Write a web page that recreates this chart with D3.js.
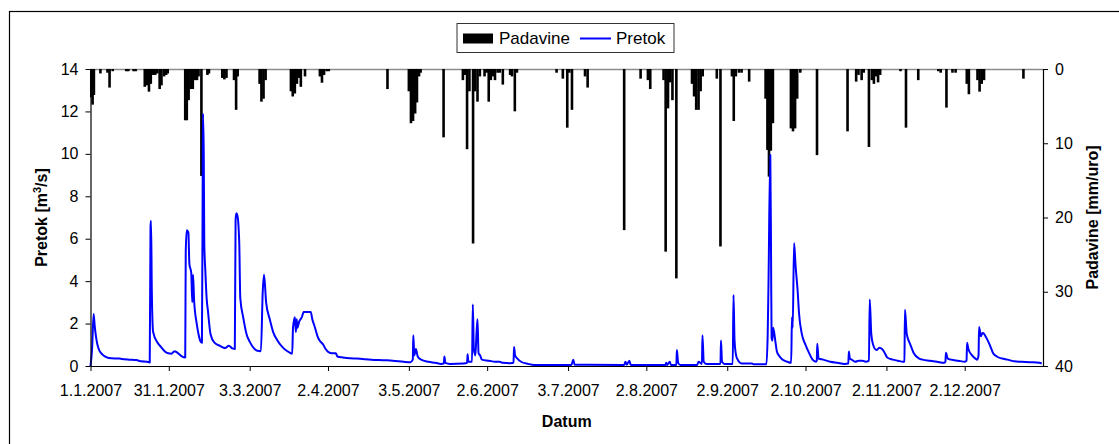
<!DOCTYPE html>
<html>
<head>
<meta charset="utf-8">
<script src="https://cdn.jsdelivr.net/npm/d3@7"></script>
<style>
  html, body { margin: 0; padding: 0; background: #fff; }
  svg { display: block; font-family: "Liberation Sans", Arial, sans-serif; }
</style>
</head>
<body>
<svg id="chart" width="1119" height="444"></svg>
<script>
// ---- DATA (day offset from 1.1.2007, value) ----
const flowDay = [0,0.6,1.2,1.6,2.2,3,4.5,6,8,11,12,15,17.5,19.5,21.6,22.7,23.0,23.2,23.5,24,25.7,27,28.4,29.8,31,32.2,33,34,35,36.3,36.5,36.9,37.5,37.9,38.6,39.0,39.3,39.7,40.7,41.4,42,42.7,43.0,43.1,43.4,43.6,44.0,44.5,45,46,47.5,49.6,51.6,53,54.4,55.3,55.6,55.9,56.3,57,57.4,58.5,59.8,61.2,62.5,63.9,65.3,66,66.5,67.3,68.7,70,71.4,73.5,74.8,76.2,77.3,77.6,78.3,78.7,79,79.3,80,81,81.7,82.4,84.4,85,85.8,86.5,87,87.8,89.2,90.1,91.2,92.6,94,94.6,96.7,99.4,102,107.6,113,115.8,120,122.6,123.5,123.7,124.1,124.7,125.4,126.7,129.5,132.2,134.3,135.4,135.6,136,137.7,143,144.3,144.5,144.8,146.2,146.5,146.9,147.5,147.9,148.3,148.7,149.3,150,152.7,155,156.8,158,160.9,162.1,162.3,162.7,163.6,165,167.7,170,184.3,185,185.5,204.5,205,205.5,206.5,207,220.4,220.6,221,222,222.4,224.5,224.7,225.2,226,232.5,233,234.3,234.5,235,236,241.4,241.6,242,243,246.1,246.4,246.8,247.4,248,249.5,253.5,254,259,259.5,259.8,260.5,260.8,261.0,261.3,261.6,262.4,263,263.8,265,267,268.5,268.8,269.1,269.6,270.2,271,271.5,272.6,274,275.3,276.7,278,278.3,278.5,279,280.8,283.5,286.2,289,290.4,290.6,291,291.7,293,294.4,295.8,297,298.3,298.6,299.2,299.9,301.2,302.3,303.3,304.2,305.3,307.4,309.4,311.4,311.9,312.1,312.8,314.2,315.5,317.6,318.9,321.7,324.4,327.1,327.6,327.8,328.5,329.8,332.5,335.1,335.7,335.9,336.4,337.8,339.1,339.8,340.3,340.5,341.2,341.8,342.5,343.2,344.6,345.9,347.3,349.3,351.4,354.1,356.8,360,363.6,364.5];
const flowValue = [0,0.8,2.45,1.9,1.3,0.85,0.55,0.42,0.36,0.35,0.33,0.3,0.28,0.22,0.2,0.17,6.6,6.85,3.5,1.6,1.1,0.9,0.7,0.6,0.58,0.7,0.65,0.55,0.45,0.4,5.4,6.4,6.3,4.8,4.4,3.0,4.3,3.1,2.0,1.5,1.2,1.1,9.0,11.9,10,5.8,4.5,3.2,2.6,1.5,1.1,0.95,0.85,0.95,0.83,0.8,6.9,7.2,7.1,5.8,3.2,2.3,1.5,1.1,0.85,0.72,0.7,3.5,4.3,3.0,2.2,1.6,1.25,0.9,0.75,0.64,0.58,1.8,2.3,1.6,2.2,1.8,2.1,2.3,2.55,2.55,2.55,2.2,1.9,1.6,1.4,1.2,1.0,0.8,0.65,0.6,0.6,0.45,0.4,0.36,0.35,0.3,0.27,0.25,0.2,0.18,0.3,1.45,0.5,0.8,0.45,0.3,0.2,0.15,0.1,0.12,0.45,0.15,0.1,0.12,0.15,0.55,0.2,0.2,2.9,0.8,0.5,1.5,2.2,0.6,0.5,0.3,0.25,0.2,0.2,0.15,0.13,0.15,0.9,0.5,0.35,0.2,0.1,0.05,0.05,0.3,0.06,0.05,0.2,0.06,0.25,0.05,0.05,0.15,0.05,0.2,0.05,0.05,0.75,0.15,0.05,0.05,0.2,0.1,1.45,0.2,0.1,0.1,1.2,0.2,0.1,0.1,3.35,1.2,0.5,0.3,0.12,0.12,0.08,0.08,1.5,3.8,9.95,5,1.3,1.2,1.8,1.2,0.7,0.5,0.32,0.2,0.15,2.3,1.8,5.8,4.7,3.5,2.5,1.5,1.0,0.63,0.3,0.2,0.25,1.05,0.35,0.3,0.2,0.15,0.1,0.12,0.68,0.35,0.3,0.2,0.25,0.25,0.2,0.25,3.14,1.5,1.0,0.75,0.86,0.8,0.65,0.4,0.3,0.25,0.2,0.22,2.65,1.5,1.0,0.6,0.35,0.3,0.25,0.2,0.15,0.2,0.62,0.35,0.3,0.25,0.2,0.25,1.1,0.8,0.5,0.35,0.3,0.5,1.84,1.4,1.55,1.5,1.35,1.0,0.6,0.45,0.35,0.3,0.22,0.2,0.18,0.15,0.12];

const rainDay = [0.3,0.8,1.3,3.8,6.5,7.3,8.5,13.7,14.5,16.5,17.3,20.8,21.6,22.4,23.1,24,24.8,25.6,26.5,27.2,28.2,29,29.6,36.3,36.9,37.6,38.4,39.2,40,40.8,41.4,42.5,44.8,45.4,50.5,51.3,52.1,55,55.8,56.4,64.8,65.5,66.3,67.1,76.8,77.5,78.3,79.1,79.9,80.6,82.2,87.9,88.7,89.5,90.5,91.3,113.8,122,122.8,123.6,124.4,125.1,125.9,126.5,135.3,142.7,143.5,144.3,145.2,146.6,147.4,148.3,149.2,151,151.8,152.6,153.4,154.2,155,156,156.8,158,160.8,161.5,162.6,163.4,178.6,181,182.7,183.5,184.5,189.5,190.5,204.5,210.8,213.6,214.5,219.6,220.4,221.3,222.1,223,224.5,230.5,231.3,232.1,233,233.8,234.6,240,241.4,245.8,246.5,247.3,248.5,249.5,252.4,258.7,259.4,260,260.7,261.5,268.4,269.2,270,270.8,272,278.4,290.1,293.4,294.3,295.5,296.3,298.3,299.4,300.2,301,301.8,302.6,310.4,312.5,317.2,324.9,325.8,328,330.3,331.5,335.8,336.6,339.9,340.7,341.5,342.4,357.5];
const rainValue = [3.8,4.8,3.5,0.6,0.5,2.5,0.3,0.3,0.3,0.3,0.3,2.4,2.2,3.05,2.0,0.8,0.8,0.6,2.7,2.2,1.0,0.8,0.6,6.9,6.9,4.2,2.7,2.7,1.5,1.5,1.0,14.4,0.8,0.6,1.2,1.4,1.2,1.5,5.5,1.0,2.0,4.4,4.0,1.5,3.0,3.7,3.3,2.0,1.2,2.4,1.0,1.0,1.85,0.8,0.3,0.3,2.7,3.0,7.3,7.0,6.0,4.5,1.0,0.5,9.2,1.5,0.8,10.8,3.0,23.5,3.0,4.4,1.0,1.0,0.5,4.4,1.5,1.0,1.5,0.5,0.5,2.1,0.8,1.0,5.7,0.5,0.5,1.3,7.9,0.5,5.5,1.0,2.5,21.7,1.3,1.5,2.7,1.5,24.6,5.3,1.8,4.2,28.2,2.0,3.7,5.5,5.5,3.0,1.0,1.3,23.9,1.0,7.0,1.0,0.5,0.5,1.7,4.0,10.9,14.5,11.0,7.3,8.0,8.4,8.0,4.0,0.5,11.6,8.4,1.7,0.8,1.5,0.5,10.5,1.5,2.0,1.0,1.8,0.8,0.3,7.9,1.5,0.3,0.5,5.2,0.5,0.5,2.0,3.4,1.5,3.05,2.0,1.5,1.3];

const xTickDates = ["2007-01-01","2007-01-31","2007-03-03","2007-04-02","2007-05-03","2007-06-02","2007-07-03","2007-08-02","2007-09-02","2007-10-02","2007-11-02","2007-12-02"];
const flowTicks = [0,2,4,6,8,10,12,14];
const rainTicks = [0,10,20,30,40];

// ---- HELPERS ----
const DAY = 86400000;
const t0 = Date.UTC(2007,0,1);
const toDate = d => new Date(t0 + d*DAY);
const parse = s => { const [y,m,dd] = s.split("-").map(Number); return new Date(Date.UTC(y,m-1,dd)); };
const fmt = dt => `${dt.getUTCDate()}.${dt.getUTCMonth()+1}.${dt.getUTCFullYear()}`;

const L = 90.5, R = 1043, T = 69, B = 366;
const svg = d3.select("#chart");

const x = d3.scaleUtc().domain([new Date(t0), new Date(Date.UTC(2008,0,1))]).range([L, R]);
const yFlow = d3.scaleLinear().domain([0,14]).range([B, T]);
const yRain = d3.scaleLinear().domain([0,40]).range([T, B]);

// outer frame
svg.append("rect").attr("x",9.5).attr("y",11.5).attr("width",1300).attr("height",600)
  .attr("fill","#fff").attr("stroke","#000").attr("stroke-width",1.2);

// top gray line of plot area
svg.append("line").attr("x1",L).attr("x2",R).attr("y1",T+0.5).attr("y2",T+0.5)
  .attr("stroke","#8c8c8c").attr("stroke-width",1.3);

// rain bars
const rain = rainDay.map((d,i)=>({d, v: rainValue[i]}));
svg.append("g").selectAll("rect").data(rain).join("rect")
  .attr("x", r => x(toDate(r.d)) - 1.3)
  .attr("width", 2.6)
  .attr("y", T)
  .attr("height", r => yRain(r.v) - T)
  .attr("fill", "#000");

// flow line
const flow = flowDay.map((d,i)=>({d, v: flowValue[i]}));
svg.append("path").datum(flow)
  .attr("fill","none").attr("stroke","#0000ff").attr("stroke-width",2)
  .attr("stroke-linejoin","round")
  .attr("d", d3.line().curve(d3.curveMonotoneX).x(p=>x(toDate(p.d))).y(p=>yFlow(p.v)));

// axes
const fontSize = "16px";
const gx = svg.append("g").attr("transform",`translate(0,${B})`)
  .call(d3.axisBottom(x).tickValues(xTickDates.map(parse)).tickFormat(fmt).tickSize(5).tickSizeOuter(0));
gx.select(".domain").attr("stroke","#000").attr("stroke-width",1.2);
gx.selectAll("text").attr("font-size",fontSize).attr("fill","#000").attr("dy","0").attr("y",30);

const gl = svg.append("g").attr("transform",`translate(${L},0)`)
  .call(d3.axisLeft(yFlow).tickValues(flowTicks).tickSize(5).tickSizeOuter(0));
gl.select(".domain").attr("stroke","#000").attr("stroke-width",1.2);
gl.selectAll("text").attr("font-size",fontSize).attr("fill","#000").attr("x",-12);

const gr = svg.append("g").attr("transform",`translate(${R},0)`)
  .call(d3.axisRight(yRain).tickValues(rainTicks).tickSize(5).tickSizeOuter(0));
gr.select(".domain").attr("stroke","#000").attr("stroke-width",1.2);
gr.selectAll("text").attr("font-size",fontSize).attr("fill","#000").attr("x",12);
svg.selectAll(".tick line").attr("stroke","#000");

// axis titles
const lt = svg.append("text").attr("transform",`translate(47,${(T+B)/2}) rotate(-90)`)
  .attr("text-anchor","middle").attr("font-size","16px").attr("font-weight","bold");
lt.append("tspan").text("Pretok [m");
lt.append("tspan").attr("font-size","11px").attr("dy","-6").text("3");
lt.append("tspan").attr("dy","6").text("/s]");

svg.append("text").attr("transform",`translate(1098,${(T+B)/2}) rotate(-90)`)
  .attr("text-anchor","middle").attr("font-size","16px").attr("font-weight","bold")
  .text("Padavine [mm/uro]");

svg.append("text").attr("x",(L+R)/2).attr("y",427).attr("text-anchor","middle")
  .attr("font-size","16px").attr("font-weight","bold").text("Datum");

// legend
const lg = svg.append("g");
lg.append("rect").attr("x",457).attr("y",23.5).attr("width",217).attr("height",29)
  .attr("fill","#fff").attr("stroke","#333").attr("stroke-width",1);
lg.append("rect").attr("x",463).attr("y",33.5).attr("width",30).attr("height",10).attr("fill","#000");
lg.append("text").attr("x",499).attr("y",44).attr("font-size","17px").text("Padavine");
lg.append("line").attr("x1",580).attr("x2",611).attr("y1",38.5).attr("y2",38.5)
  .attr("stroke","#0000ff").attr("stroke-width",2);
lg.append("text").attr("x",616).attr("y",44).attr("font-size","17px").text("Pretok");
</script>
</body>
</html>
